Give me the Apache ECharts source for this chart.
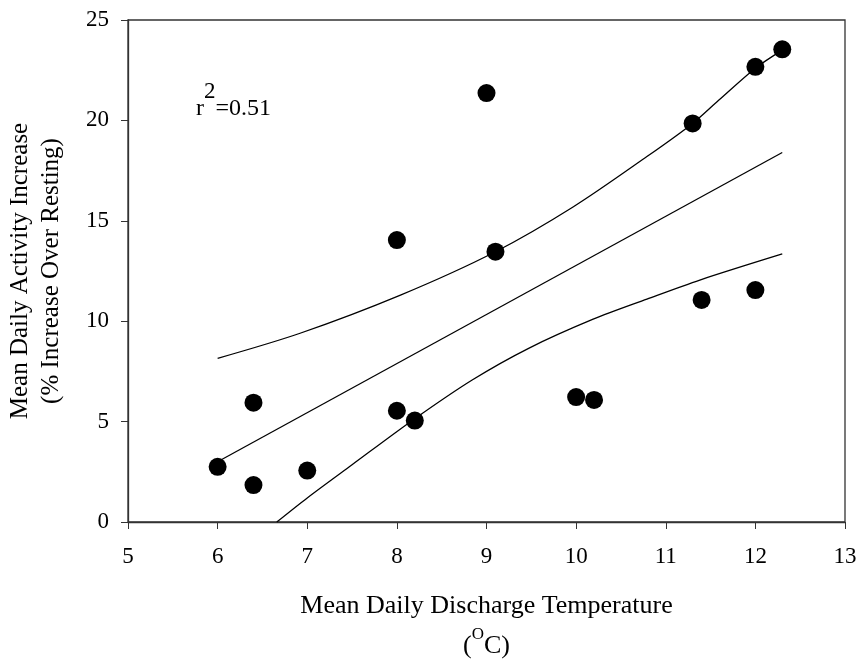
<!DOCTYPE html>
<html>
<head>
<meta charset="utf-8">
<script src="https://cdn.jsdelivr.net/npm/echarts@6/dist/echarts.min.js"></script>
<style>
  html, body { margin: 0; padding: 0; background: #fff; }
  #chart { width: 859px; height: 661px; }
</style>
</head>
<body>
<div id="chart"></div>
<script>
// Activity increase vs discharge temperature
const temps = [6.0, 6.4, 6.4, 7.0, 8.0, 8.0, 8.2, 9.0, 9.1, 10.0, 10.2, 11.3, 11.4, 12.0, 12.0, 12.3];
const activity = [2.75, 5.94, 1.84, 2.56, 14.04, 5.54, 5.05, 21.36, 13.46, 6.22, 6.08, 19.85, 11.06, 11.55, 22.67, 23.54];

// regression line and 95% band
const fitX = [6.0, 12.3];
const fitY = [3.0, 18.4];
const upperX = [6.0, 6.92, 8.04, 9.1, 9.97, 10.79, 11.3, 11.59, 12.0, 12.3];
const upperY = [8.15, 9.4, 11.3, 13.46, 15.7, 18.2, 19.85, 21.0, 22.6, 23.5];
const lowerX = [6.66, 7.0, 7.5, 8.18, 8.84, 9.47, 10.19, 10.79, 11.38, 12.3];
const lowerY = [0.0, 1.2, 2.85, 5.08, 7.07, 8.65, 10.1, 11.1, 12.05, 13.35];

const xTicks = [5, 6, 7, 8, 9, 10, 11, 12, 13];
const yTicks = [0, 5, 10, 15, 20, 25];

const font = "'Liberation Serif', 'Times New Roman', serif";
const pair = (xs, ys) => xs.map((x, i) => [x, ys[i]]);

const lineStyle = { color: "#000", width: 1.3 };

const option = {
  animation: false,
  grid: {
    left: 128, right: 14, top: 20, bottom: 139,
    containLabel: false, outerBoundsMode: "none",
    show: true, borderColor: "#333", borderWidth: 1.3
  },
  xAxis: {
    type: "value",
    min: xTicks[0],
    max: xTicks[xTicks.length - 1],
    interval: 1,
    name: "Mean Daily Discharge Temperature\n({s|O}C)",
    nameLocation: "middle",
    nameGap: 64,
    nameTextStyle: {
      fontFamily: font, fontSize: 26, color: "#000", lineHeight: 40,
      rich: { s: { fontFamily: font, fontSize: 17, color: "#000", verticalAlign: "top", lineHeight: 30 } }
    },
    axisLine: { lineStyle: { color: "#333", width: 1.3 } },
    axisTick: { inside: false, length: 7, lineStyle: { color: "#333" } },
    axisLabel: { margin: 23, fontFamily: font, fontSize: 23, color: "#000" },
    splitLine: { show: false }
  },
  yAxis: {
    type: "value",
    min: yTicks[0],
    max: yTicks[yTicks.length - 1],
    interval: 5,
    name: "Mean Daily Activity Increase\n(% Increase Over Resting)",
    nameLocation: "middle",
    nameGap: 61,
    nameTextStyle: { fontFamily: font, fontSize: 25, color: "#000", lineHeight: 31 },
    axisLine: { lineStyle: { color: "#333", width: 1.3 } },
    axisTick: { inside: false, length: 7, lineStyle: { color: "#333" } },
    axisLabel: { margin: 19, fontFamily: font, fontSize: 23, color: "#000" },
    splitLine: { show: false }
  },
  graphic: [{
    type: "text",
    left: 196,
    top: 80,
    style: {
      text: "{a|r}{s|2}{a|=0.51}",
      rich: {
        a: { fontFamily: font, fontSize: 24, fill: "#000", verticalAlign: "bottom" },
        s: { fontFamily: font, fontSize: 23, fill: "#000", verticalAlign: "bottom", padding: [0, 0, 18, 0] }
      }
    }
  }],
  series: [
    { type: "line", data: pair(fitX, fitY), symbol: "none", lineStyle: lineStyle, silent: true },
    { type: "line", data: pair(upperX, upperY), symbol: "none", smooth: 0.3, lineStyle: lineStyle, silent: true },
    { type: "line", data: pair(lowerX, lowerY), symbol: "none", smooth: 0.3, lineStyle: lineStyle, silent: true },
    {
      type: "scatter",
      data: pair(temps, activity),
      symbol: "circle",
      symbolSize: 18,
      itemStyle: { color: "#000", opacity: 1 },
      z: 5
    }
  ]
};

const chart = echarts.init(document.getElementById("chart"));
chart.setOption(option);
window.addEventListener("resize", () => chart.resize());
</script>
</body>
</html>
